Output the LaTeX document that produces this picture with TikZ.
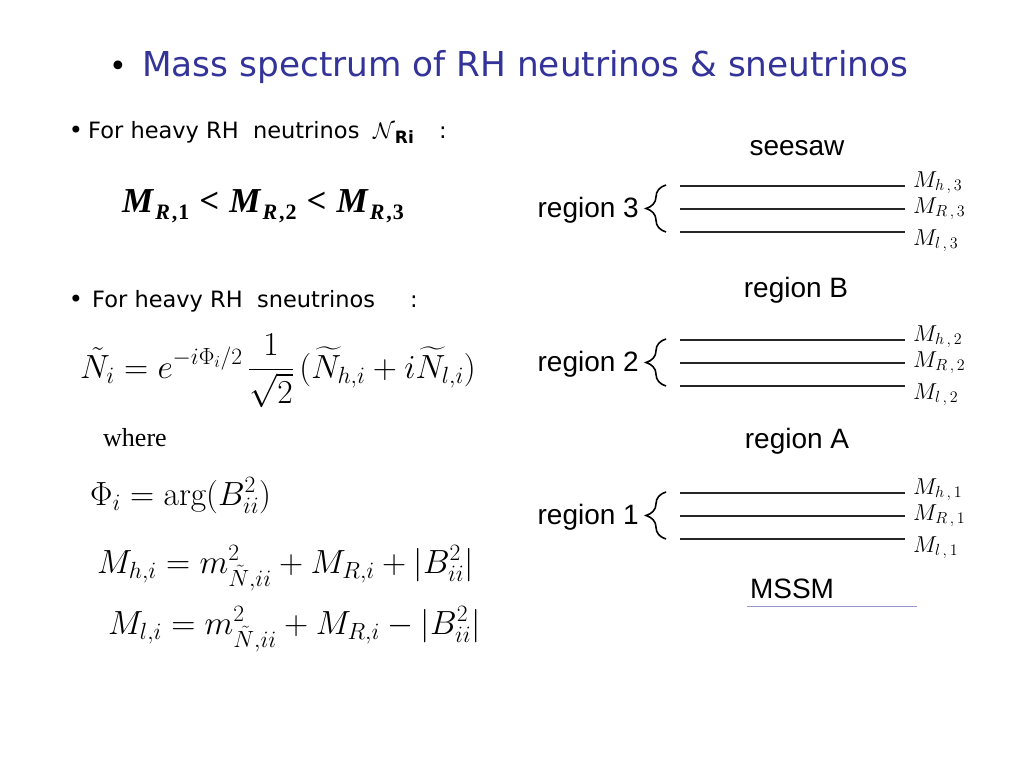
\RequirePackage{fix-cm}
\documentclass[tikz,border=0pt]{standalone}
\usepackage{amsmath}
\usepackage{fontspec}
\usetikzlibrary{positioning, decorations.pathreplacing}
\newfontfamily\comicfont{DejaVu Sans}
\newfontfamily\arialfont{Liberation Sans}
\newfontfamily\timesfont{Liberation Serif}
\definecolor{titleblue}{RGB}{51,51,153}
\definecolor{rulerblue}{RGB}{150,150,210}
\newcommand{\fs}[1]{\fontsize{#1}{#1}\selectfont}
\newcommand{\massR}[1]{{\timesfont\bfseries\itshape M\hspace{2pt}\raisebox{-7pt}{\fs{22}R\upshape\hspace{2pt},\hspace{1pt}#1}}}
\newcommand{\lessR}{\hspace{10pt}{\timesfont\bfseries<}\hspace{10pt}}
\tikzstyle{heading} = [inner sep=0pt, anchor=base west, text=titleblue, font=\comicfont\fs{34.3}]
\tikzstyle{bullettext} = [inner sep=0pt, anchor=base west, font=\comicfont\fs{22.5}]
\tikzstyle{bulletdot} = [inner sep=0pt, anchor=base, font=\comicfont\fs{24}]
\tikzstyle{formula} = [inner sep=0pt, anchor=base west, font=\fs{33.5}]
\tikzstyle{regionlabel} = [inner sep=0pt, anchor=base east, font=\arialfont\fs{28}]
\tikzstyle{boundary} = [inner sep=0pt, anchor=base, font=\arialfont\fs{28}]
\tikzstyle{masslabel} = [inner sep=0pt, anchor=base west, font=\fs{23}]
\tikzstyle{masslevel} = [line width=1.7pt, black!85]
\tikzstyle{regionbrace} = [decorate, decoration={brace, amplitude=20pt}, line width=1.6pt]

\begin{document}
\begin{tikzpicture}[x=1pt, y=-1pt]
\useasboundingbox (0,0) rectangle (1024,768);

% title
\node (tdot) [bulletdot, font=\comicfont\fs{30}] at (118,77) {•};
\node (title) [heading] at (142,77) {Mass spectrum of RH neutrinos \& sneutrinos};

% neutrinos
\node (dot1) [bulletdot] at (76,138) {•};
\node (nu) [bullettext] at (88,138) {For heavy RH\ \ neutrinos};
\node (nri) [bullettext] at (373,138) {$\mathcal{N}$\raisebox{-5pt}{\fs{17}\bfseries Ri}};
\node (colon1) [bullettext] at (439,138) {:};
\node (mrchain) [inner sep=0pt, anchor=base west, font=\fs{35}] at (122,212)
  {\massR{1}\lessR\massR{2}\lessR\massR{3}};

% sneutrinos
\node (dot2) [bulletdot] at (76,307) {•};
\node (snu) [bullettext] at (92,307) {For heavy RH\ \ sneutrinos};
\node (colon2) [bullettext] at (410,307) {:};
\node (ntilde) [formula] at (80,378)
  {$\displaystyle \tilde{N}_i = e^{-i\Phi_i/2}\,\frac{1}{\sqrt{2}}\,(\widetilde{N}_{h,i} + i\widetilde{N}_{l,i})$};
\node (where) [inner sep=0pt, anchor=base west, font=\timesfont\fs{26}] at (103,446) {where};
\node (phi) [formula] at (90,505) {$\Phi_i = \arg(B_{ii}^2)$};
\node (mh) [formula] at (97,573) {$M_{h,i} = m^2_{\tilde{N},ii} + M_{R,i} + |B^2_{ii}|$};
\node (ml) [formula] at (108,634) {$M_{l,i} = m^2_{\tilde{N},ii} + M_{R,i} - |B^2_{ii}|$};

% spectrum
\node (seesaw) [boundary] at (797,155) {seesaw};
\node (regB) [boundary] at (796,297) {region B};
\node (regA) [boundary] at (797,448) {region A};
\node (mssm) [boundary] at (792,598) {MSSM};
\coordinate (rulew) at (747,606);
\coordinate (rulee) at (917,606);
\draw [rulerblue, line width=0.8pt] (rulew) -- (rulee);

\foreach \r/\y in {3/186,2/340,1/493}{
  \coordinate (h\r w) at (680,\y);
  \coordinate (h\r e) at (905,\y);
  \coordinate (R\r w) at (680,\y+23);
  \coordinate (R\r e) at (905,\y+23);
  \coordinate (l\r w) at (680,\y+46);
  \coordinate (l\r e) at (905,\y+46);
  \draw [masslevel] (h\r w) -- (h\r e);
  \draw [masslevel] (R\r w) -- (R\r e);
  \draw [masslevel] (l\r w) -- (l\r e);
  \draw [regionbrace] (666,\y+46) -- (666,\y-1);
  \node (reg\r) [regionlabel] at (639,\y+31) {region \r};
  \node (mh\r) [masslabel] at (913,\y+1) {$M_{h\,,\,\r}$};
  \node (mR\r) [masslabel] at (913,\y+27) {$M_{R\,,\,\r}$};
  \node (ml\r) [masslabel] at (913,\y+59) {$M_{l\,,\,\r}$};
}
\end{tikzpicture}
\end{document}
